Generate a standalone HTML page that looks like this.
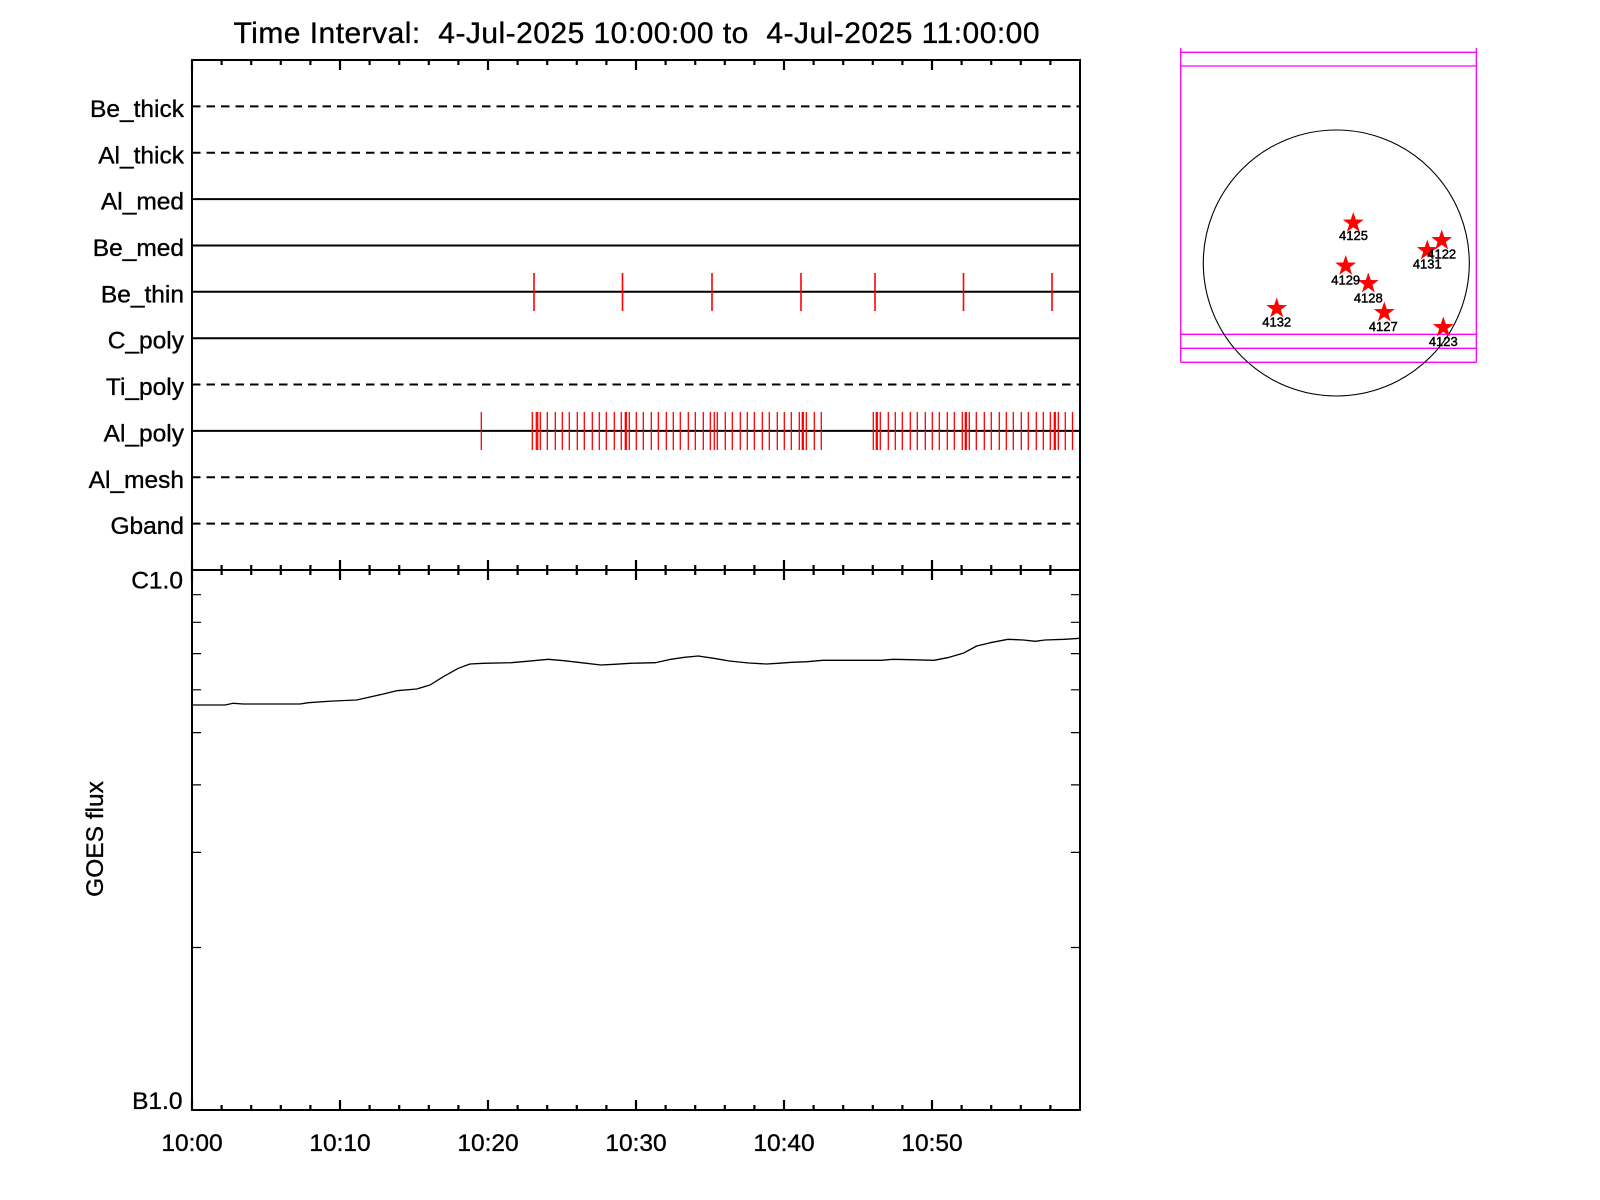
<!DOCTYPE html>
<html>
<head>
<meta charset="utf-8">
<style>
  html,body{margin:0;padding:0;background:#fff;}
  svg{display:block;}
  text{font-family:"Liberation Sans",Arial,sans-serif;fill:#000;}
</style>
</head>
<body>
<svg width="1600" height="1200" viewBox="0 0 1600 1200" xmlns="http://www.w3.org/2000/svg">
  <defs>
    <path id="st" d="M0,-11 L2.53,-3.48 L10.46,-3.4 L4.09,1.33 L6.47,8.9 L0,4.3 L-6.47,8.9 L-4.09,1.33 L-10.46,-3.4 L-2.53,-3.48 Z" fill="#ff0000"/>
  </defs>
  <rect width="1600" height="1200" fill="#fff"/>

  <!-- Title -->
  <text x="233.5" y="43" font-size="30" textLength="806" lengthAdjust="spacing" stroke="#000" stroke-width="0.35" xml:space="preserve">Time Interval:  4-Jul-2025 10:00:00 to  4-Jul-2025 11:00:00</text>

  <!-- Upper panel row lines -->
  <g stroke="#000" stroke-width="2" fill="none">
    <line x1="192" y1="106.4" x2="1080" y2="106.4" stroke-dasharray="8.5,6"/>
    <line x1="192" y1="152.7" x2="1080" y2="152.7" stroke-dasharray="8.5,6"/>
    <line x1="192" y1="199.1" x2="1080" y2="199.1"/>
    <line x1="192" y1="245.5" x2="1080" y2="245.5"/>
    <line x1="192" y1="291.8" x2="1080" y2="291.8"/>
    <line x1="192" y1="338.2" x2="1080" y2="338.2"/>
    <line x1="192" y1="384.5" x2="1080" y2="384.5" stroke-dasharray="8.5,6"/>
    <line x1="192" y1="430.9" x2="1080" y2="430.9"/>
    <line x1="192" y1="477.3" x2="1080" y2="477.3" stroke-dasharray="8.5,6"/>
    <line x1="192" y1="523.6" x2="1080" y2="523.6" stroke-dasharray="8.5,6"/>
  </g>

  <!-- Row labels -->
  <g font-size="24.5" text-anchor="end" stroke="#000" stroke-width="0.35">
    <text x="184" y="117">Be_thick</text>
    <text x="184" y="163.3">Al_thick</text>
    <text x="184" y="209.6">Al_med</text>
    <text x="184" y="256">Be_med</text>
    <text x="184" y="302.3">Be_thin</text>
    <text x="184" y="348.7">C_poly</text>
    <text x="184" y="395">Ti_poly</text>
    <text x="184" y="441.4">Al_poly</text>
    <text x="184" y="487.8">Al_mesh</text>
    <text x="184" y="534.1">Gband</text>
  </g>

  <!-- Be_thin red ticks -->
  <g stroke="#ff0000" stroke-width="1.6">
    <line x1="534" y1="273" x2="534" y2="311"/>
    <line x1="622.5" y1="273" x2="622.5" y2="311"/>
    <line x1="712" y1="273" x2="712" y2="311"/>
    <line x1="801" y1="273" x2="801" y2="311"/>
    <line x1="875" y1="273" x2="875" y2="311"/>
    <line x1="963.5" y1="273" x2="963.5" y2="311"/>
    <line x1="1052" y1="273" x2="1052" y2="311"/>
  </g>

  <!-- Al_poly red ticks -->
  <g stroke="#ff0000" stroke-width="1.3">
    <path d="M481.3,412V450 M532.3,412V450 M536.3,412V450 M537.7,412V450 M540.3,412V450 M547.3,412V450 M555.3,412V450 M562.3,412V450 M569.3,412V450 M577.3,412V450 M584.3,412V450 M592.3,412V450 M599.3,412V450 M606.3,412V450 M614.3,412V450 M621.3,412V450 M625.3,412V450 M626.3,412V450 M629.3,412V450 M636.3,412V450 M643.3,412V450 M651.3,412V450 M658.3,412V450 M666.3,412V450 M673.3,412V450 M680.3,412V450 M688.3,412V450 M695.3,412V450 M703.3,412V450 M710.3,412V450 M714.3,412V450 M717.3,412V450 M725.3,412V450 M732.3,412V450 M740.3,412V450 M747.3,412V450 M754.3,412V450 M762.3,412V450 M769.3,412V450 M777.3,412V450 M784.3,412V450 M791.3,412V450 M799.3,412V450 M802.3,412V450 M803.3,412V450 M806.3,412V450 M814.3,412V450 M821.3,412V450 M873.3,412V450 M876.3,412V450 M877.3,412V450 M880.3,412V450 M888.3,412V450 M895.3,412V450 M902.3,412V450 M910.3,412V450 M917.3,412V450 M925.3,412V450 M932.3,412V450 M939.3,412V450 M947.3,412V450 M954.3,412V450 M962.3,412V450 M965.3,412V450 M966.3,412V450 M969.3,412V450 M976.3,412V450 M984.3,412V450 M991.3,412V450 M999.3,412V450 M1006.3,412V450 M1013.3,412V450 M1021.3,412V450 M1028.3,412V450 M1036.3,412V450 M1043.3,412V450 M1050.3,412V450 M1054.3,412V450 M1055.3,412V450 M1058.3,412V450 M1065.3,412V450 M1072.5,412V450"/>
  </g>

  <!-- Axes frames -->
  <g stroke="#000" stroke-width="2" fill="none">
    <rect x="192" y="60" width="888" height="510"/>
    <rect x="192" y="570" width="888" height="540"/>
  </g>

  <!-- Time ticks -->
  <g stroke="#000" stroke-width="2.2">
    <path d="M192,60V70 M340,60V70 M488,60V70 M636,60V70 M784,60V70 M932,60V70
             M221.6,60V65 M251.2,60V65 M280.8,60V65 M310.4,60V65
             M369.6,60V65 M399.2,60V65 M428.8,60V65 M458.4,60V65
             M517.6,60V65 M547.2,60V65 M576.8,60V65 M606.4,60V65
             M665.6,60V65 M695.2,60V65 M724.8,60V65 M754.4,60V65
             M813.6,60V65 M843.2,60V65 M872.8,60V65 M902.4,60V65
             M961.6,60V65 M991.2,60V65 M1020.8,60V65 M1050.4,60V65"/>
    <path d="M192,560V580 M340,560V580 M488,560V580 M636,560V580 M784,560V580 M932,560V580
             M221.6,565V575 M251.2,565V575 M280.8,565V575 M310.4,565V575
             M369.6,565V575 M399.2,565V575 M428.8,565V575 M458.4,565V575
             M517.6,565V575 M547.2,565V575 M576.8,565V575 M606.4,565V575
             M665.6,565V575 M695.2,565V575 M724.8,565V575 M754.4,565V575
             M813.6,565V575 M843.2,565V575 M872.8,565V575 M902.4,565V575
             M961.6,565V575 M991.2,565V575 M1020.8,565V575 M1050.4,565V575"/>
    <path d="M192,1100V1110 M340,1100V1110 M488,1100V1110 M636,1100V1110 M784,1100V1110 M932,1100V1110
             M221.6,1105V1110 M251.2,1105V1110 M280.8,1105V1110 M310.4,1105V1110
             M369.6,1105V1110 M399.2,1105V1110 M428.8,1105V1110 M458.4,1105V1110
             M517.6,1105V1110 M547.2,1105V1110 M576.8,1105V1110 M606.4,1105V1110
             M665.6,1105V1110 M695.2,1105V1110 M724.8,1105V1110 M754.4,1105V1110
             M813.6,1105V1110 M843.2,1105V1110 M872.8,1105V1110 M902.4,1105V1110
             M961.6,1105V1110 M991.2,1105V1110 M1020.8,1105V1110 M1050.4,1105V1110"/>
  </g>

  <!-- Log ticks on lower panel -->
  <g stroke="#000" stroke-width="1.2">
    <path d="M192,594.7H201 M192,622.3H201 M192,653.6H201 M192,689.8H201 M192,732.6H201 M192,784.9H201 M192,852.4H201 M192,947.5H201
             M1080,594.7H1071 M1080,622.3H1071 M1080,653.6H1071 M1080,689.8H1071 M1080,732.6H1071 M1080,784.9H1071 M1080,852.4H1071 M1080,947.5H1071"/>
  </g>

  <!-- GOES curve -->
  <polyline fill="none" stroke="#000" stroke-width="1.3" stroke-linejoin="round" points="192,705 225,705 233.3,703.3 243.3,704 300,704 308.3,702.7 333.3,701 356.7,700 366.7,697.7 383.3,694 396.7,690.7 416.7,689 430,685 443.3,676.7 458.3,668.3 470,664 483.3,663.3 511.2,662.7 526.8,661.3 548.2,659.3 563.8,660.7 581.3,662.7 600.8,665 614.4,664.3 630,663.3 655.3,662.7 670.9,659.3 684.5,657.3 698.2,656 713.8,658.3 729.3,661 748.8,663 766.4,664 778,663.3 791.7,662.3 807.3,661.7 822.8,660.3 881.3,660.3 893,659.3 910.5,659.7 933.9,660.3 947.5,657.7 963.1,653.3 976.7,646 990.4,642.7 1007.9,639.3 1023.5,640 1035.2,641.3 1044.9,640 1064.4,639.3 1080,638.3"/>

  <!-- Y labels -->
  <g font-size="24.5" text-anchor="end" stroke="#000" stroke-width="0.35">
    <text x="183" y="588.5">C1.0</text>
    <text x="182.5" y="1109">B1.0</text>
  </g>
  <text font-size="24.5" text-anchor="middle" stroke="#000" stroke-width="0.35" transform="translate(103,839) rotate(-90)">GOES flux</text>

  <!-- X labels -->
  <g font-size="24.5" text-anchor="middle" stroke="#000" stroke-width="0.35">
    <text x="192" y="1151">10:00</text>
    <text x="340" y="1151">10:10</text>
    <text x="488" y="1151">10:20</text>
    <text x="636" y="1151">10:30</text>
    <text x="784" y="1151">10:40</text>
    <text x="932" y="1151">10:50</text>
  </g>

  <!-- Inset -->
  <g stroke="#ff00ff" stroke-width="1.3" fill="none">
    <line x1="1180.7" y1="48" x2="1180.7" y2="362.3"/>
    <line x1="1476.3" y1="48" x2="1476.3" y2="362.3"/>
    <line x1="1180.7" y1="52.3" x2="1476.3" y2="52.3"/>
    <line x1="1180.7" y1="66" x2="1476.3" y2="66"/>
    <line x1="1180.7" y1="334.3" x2="1476.3" y2="334.3"/>
    <line x1="1180.7" y1="348.3" x2="1476.3" y2="348.3"/>
    <line x1="1180.7" y1="362.3" x2="1476.3" y2="362.3"/>
  </g>
  <circle cx="1336.3" cy="263" r="133" fill="none" stroke="#000" stroke-width="1.1"/>

  <use href="#st" x="1353.3" y="223"/>
  <use href="#st" x="1441.7" y="240.5"/>
  <use href="#st" x="1427.3" y="250.5"/>
  <use href="#st" x="1345.7" y="266"/>
  <use href="#st" x="1368.3" y="283.5"/>
  <use href="#st" x="1276.7" y="308.5"/>
  <use href="#st" x="1384.3" y="312.5"/>
  <use href="#st" x="1443.3" y="327.5"/>

  <g font-size="13" text-anchor="middle" stroke="#000" stroke-width="0.45">
    <text x="1353.5" y="240">4125</text>
    <text x="1441.7" y="258.3">4122</text>
    <text x="1427.3" y="268.7">4131</text>
    <text x="1345.7" y="284.3">4129</text>
    <text x="1368.3" y="302.7">4128</text>
    <text x="1276.7" y="326.7">4132</text>
    <text x="1383.3" y="331">4127</text>
    <text x="1443.3" y="346">4123</text>
  </g>
</svg>
</body>
</html>
